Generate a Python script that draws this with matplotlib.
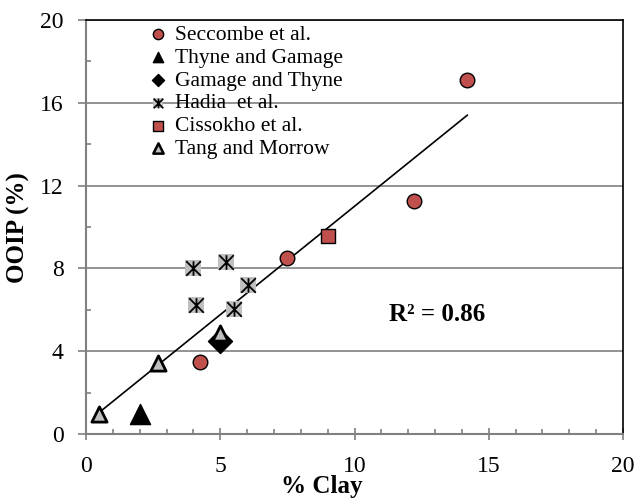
import numpy as np
import matplotlib.pyplot as plt
from matplotlib.path import Path
from matplotlib.ticker import MultipleLocator

plt.rcParams["font.family"] = ["Liberation Serif", "DejaVu Serif"]

# data (% clay vs OOIP %)
seccombe_x = [4.25, 7.5, 12.2, 14.2]
seccombe_y = [3.5, 8.5, 11.25, 17.1]
thyne_x = [2.0]
thyne_y = [0.95]
gamage_x = [5.0]
gamage_y = [4.5]
hadia_x = [4.0, 5.2, 4.1, 6.05, 5.5]
hadia_y = [8.0, 8.3, 6.25, 7.2, 6.05]
cissokho_x = [9.0]
cissokho_y = [9.55]
tang_x = [0.5, 2.7, 5.0]
tang_y = [0.95, 3.45, 4.9]

# trendline ends
trend_x = [0.5, 14.2]
trend_y = [1.05, 15.4]
r2_text = "R² = 0.86"

labels = ["Seccombe et al.", "Thyne and Gamage", "Gamage and Thyne", "Hadia  et al.",
          "Cissokho et al.", "Tang and Morrow"]

# excel style star: vertical bar plus an X
star = Path([(0, -1), (0, 1), (-1, -1), (1, 1), (-1, 1), (1, -1)],
            [Path.MOVETO, Path.LINETO, Path.MOVETO, Path.LINETO, Path.MOVETO, Path.LINETO])

fig = plt.figure(figsize=(6.38, 5.0), dpi=100)
ax = fig.add_axes([86 / 638, 1 - 434 / 500, 537 / 638, 414 / 500])

red = "#C0504D"
grey = "#BFBFBF"

ax.plot(trend_x, trend_y, color="black", lw=1.2, zorder=2)

ax.scatter(seccombe_x, seccombe_y, s=110, c=red, edgecolors="black", linewidths=1.0,
           zorder=3)
ax.scatter(thyne_x, thyne_y, s=210, c="black", marker="^", zorder=3)
ax.scatter(gamage_x, gamage_y, s=150, c="black", marker="D", zorder=3)
ax.scatter(hadia_x, hadia_y, s=125, c=grey, marker="s", linewidths=0, zorder=3)
ax.scatter(hadia_x, hadia_y, s=110, c="black", marker=star, linewidths=1.3, zorder=4)
ax.scatter(cissokho_x, cissokho_y, s=115, c=red, marker="s", edgecolors="black",
           linewidths=1.0, zorder=3)
ax.scatter(tang_x, tang_y, s=120, c=grey, marker="^", edgecolors="black",
           linewidths=2.0, zorder=3)

# legend handles (smaller markers)
h = [
    ax.scatter([], [], s=55, c=red, edgecolors="black", linewidths=1.0),
    ax.scatter([], [], s=55, c="black", marker="^"),
    ax.scatter([], [], s=38, c="black", marker="D"),
    (ax.scatter([], [], s=55, c=grey, marker="s", linewidths=0),
     ax.scatter([], [], s=48, c="black", marker=star, linewidths=1.2)),
    ax.scatter([], [], s=55, c=red, marker="s", edgecolors="black", linewidths=1.0),
    ax.scatter([], [], s=55, c=grey, marker="^", edgecolors="black", linewidths=1.8),
]
ax.legend(h, labels, loc="upper left", bbox_to_anchor=(0.0815, 1.025), frameon=False,
          fontsize=15.5, handletextpad=0.19, labelspacing=0.13, borderpad=0.2,
          handlelength=1.2)

ax.text(11.3, 5.77, r2_text, fontsize=18, fontweight="bold", va="center", ha="left")

ax.set_xlim(0, 20)
ax.set_ylim(0, 20)
ax.xaxis.set_major_locator(MultipleLocator(5))
ax.xaxis.set_minor_locator(MultipleLocator(1))
ax.yaxis.set_major_locator(MultipleLocator(4))
ax.yaxis.set_minor_locator(MultipleLocator(2))
ax.tick_params(axis="x", which="major", direction="inout", length=8, width=1.2,
               color="#808080", labelsize=17, pad=12)
ax.tick_params(axis="x", which="minor", direction="in", length=3.6, width=1.2,
               color="#808080")
ax.tick_params(axis="y", which="major", direction="out", length=6, width=1.2,
               color="#808080", labelsize=17, pad=10)
ax.tick_params(axis="y", which="minor", direction="in", length=3.6, width=1.2,
               color="#808080")

ax.yaxis.grid(True, which="major", color="#808080", lw=1.2)
ax.set_axisbelow(True)

for side in ["left", "bottom"]:
    ax.spines[side].set_color("#808080")
    ax.spines[side].set_linewidth(1.5)
for side in ["top", "right"]:
    ax.spines[side].set_color("black")
    ax.spines[side].set_linewidth(1.2)

fig.text(322 / 638, 1 - 493 / 500, "% Clay", fontsize=18, fontweight="bold",
         ha="center", va="baseline")
fig.text(18 / 638, 1 - 228 / 500, "OOIP (%)", fontsize=18, fontweight="bold",
         ha="center", va="center", rotation=90)

fig.savefig("out.png", dpi=100)
